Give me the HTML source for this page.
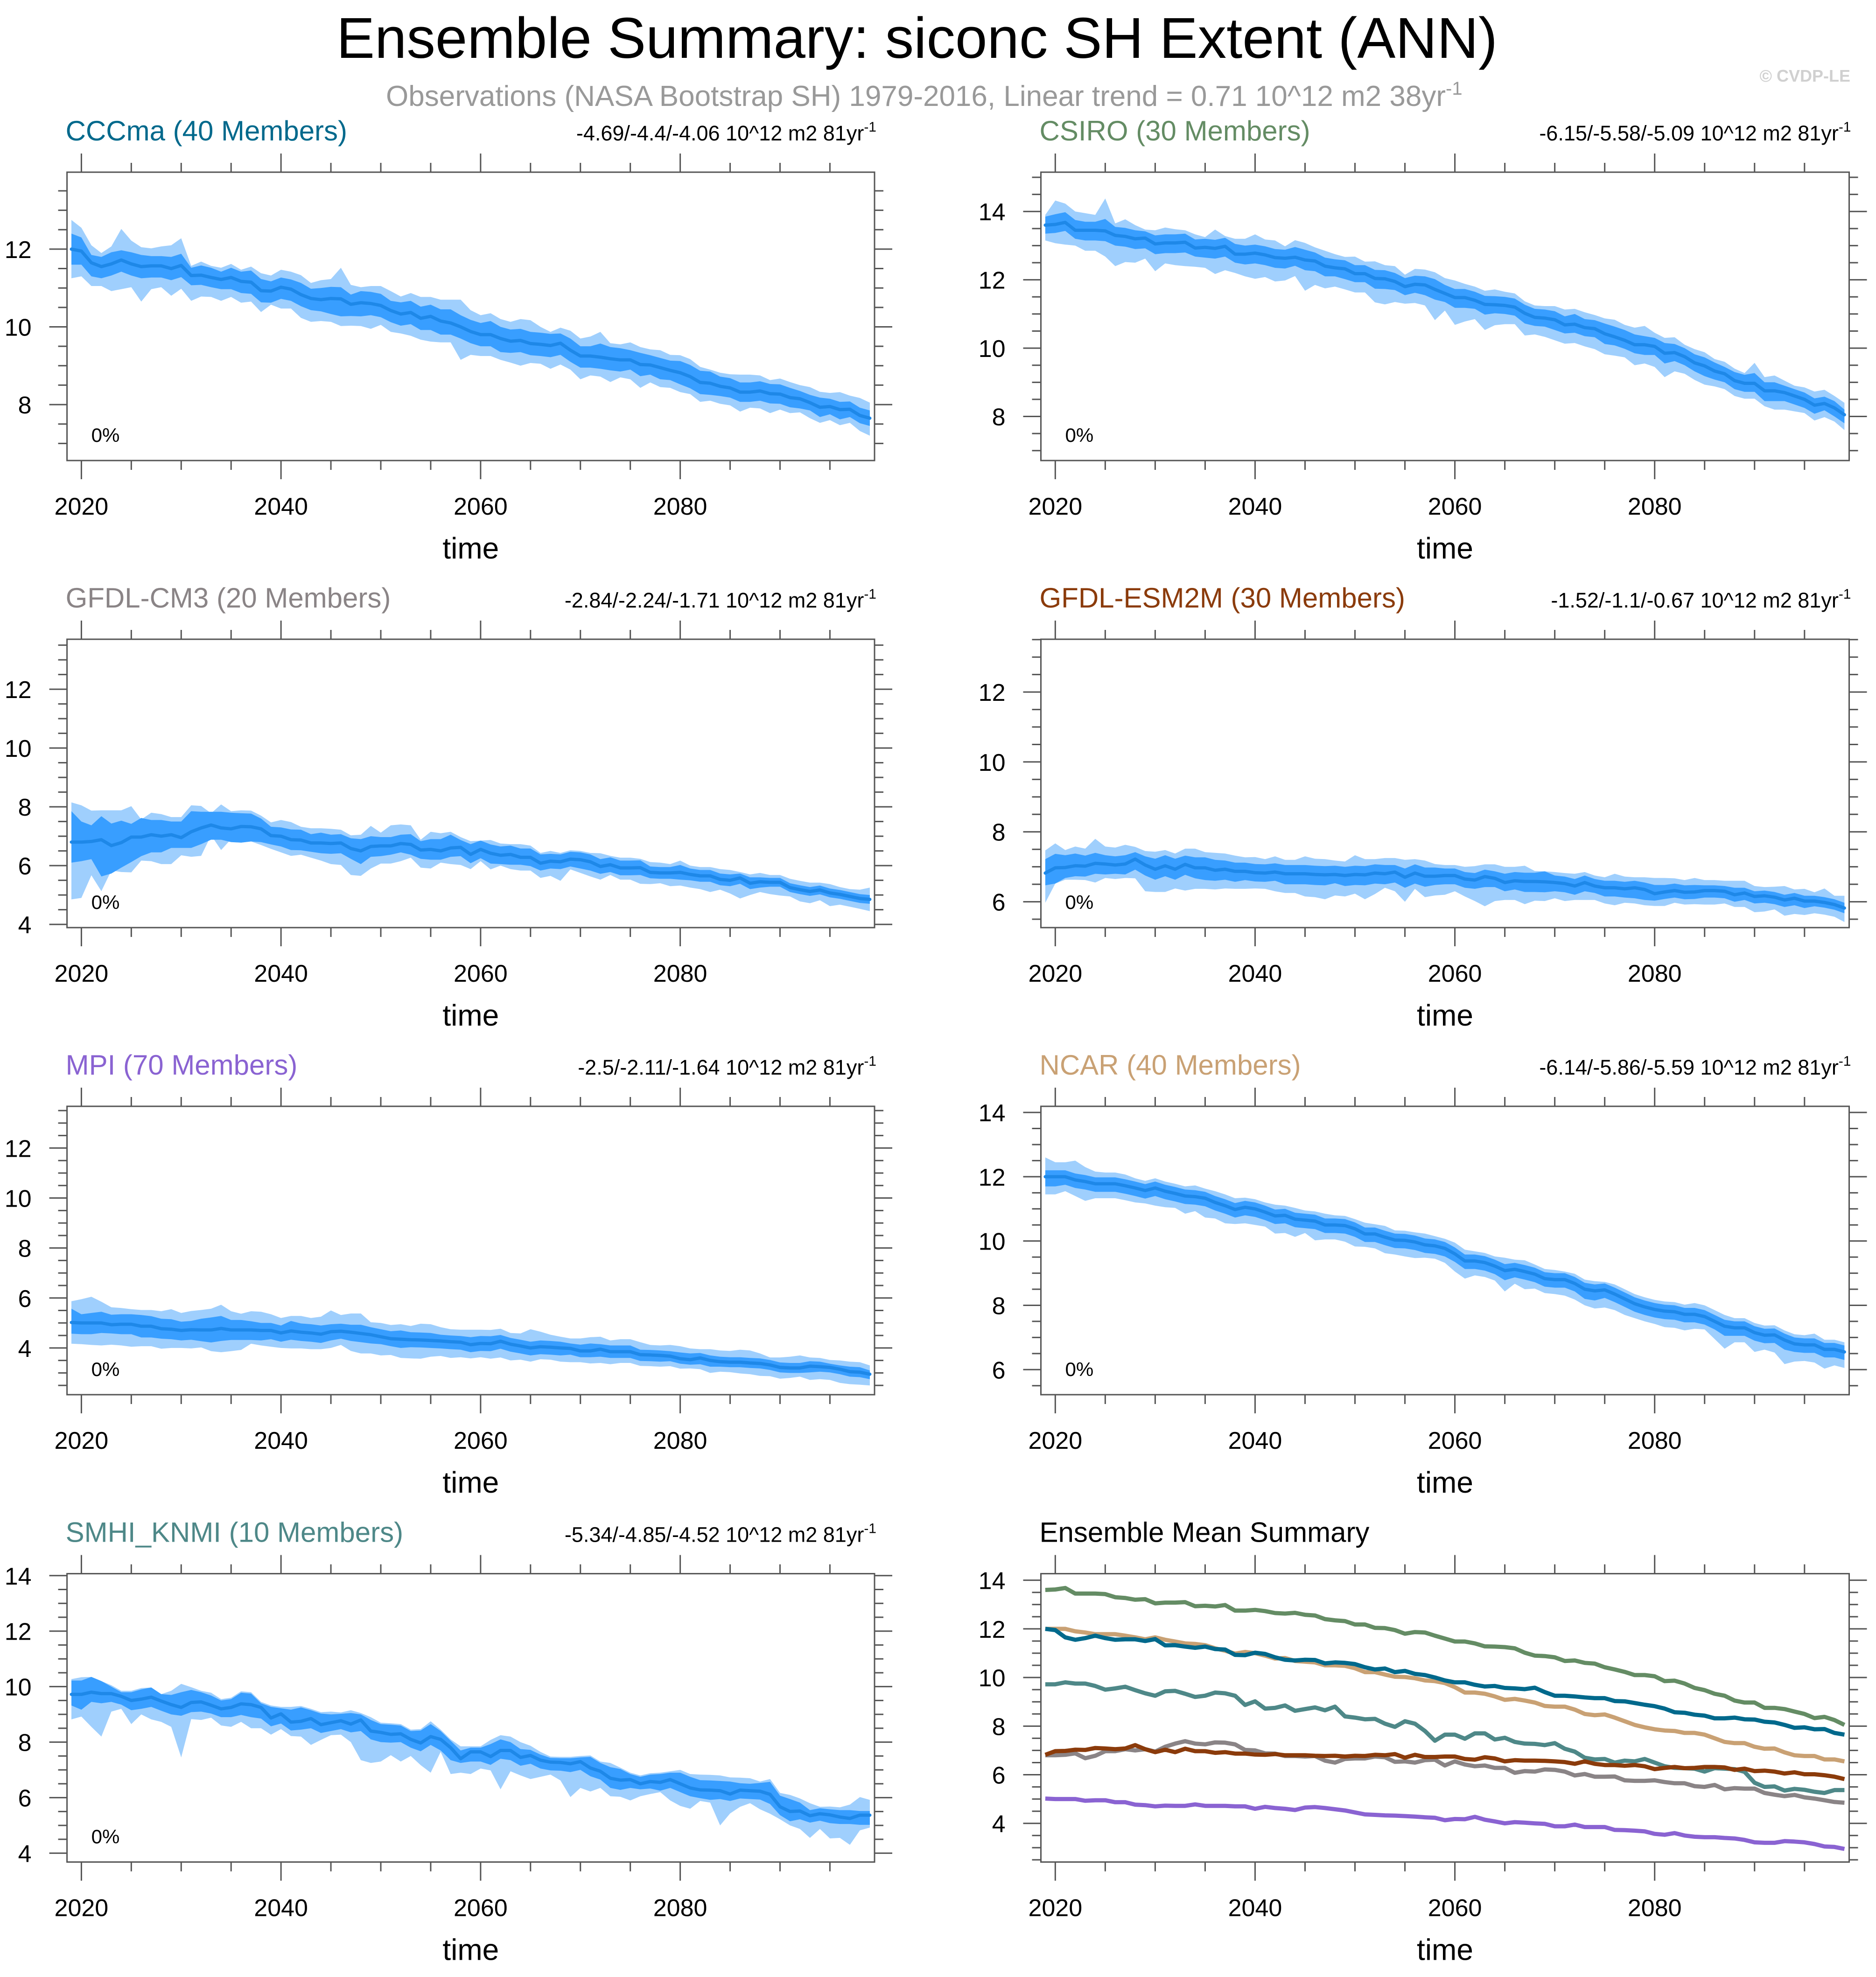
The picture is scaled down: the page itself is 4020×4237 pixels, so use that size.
<!DOCTYPE html>
<html><head><meta charset="utf-8"><style>
html,body{margin:0;padding:0;background:#fff;}
svg{display:block;font-family:"Liberation Sans",sans-serif;}
</style></head><body>
<svg id="chart" xmlns="http://www.w3.org/2000/svg" width="4020" height="4237" viewBox="0 0 4020 4237">
<rect x="0" y="0" width="4020" height="4237" fill="#fff"/>
<text x="1965" y="124" font-size="123" text-anchor="middle" fill="#000">Ensemble Summary: siconc SH Extent (ANN)</text>
<text x="827" y="227" font-size="62" fill="#999">Observations (NASA Bootstrap SH) 1979-2016, Linear trend = 0.71 10^12 m2 38yr<tspan font-size="40" dy="-24">-1</tspan></text>
<text x="3965" y="175" font-size="36" font-weight="bold" text-anchor="end" fill="#d0d0d0">© CVDP-LE</text>
</svg>
<script>
// ---------- DATA (years 2019..2099) ----------
const startYear = 2019;
const xTickYears = [2020, 2040, 2060, 2080];

const cccmaMean = [12.0,11.95,11.65,11.55,11.62,11.72,11.62,11.55,11.57,
11.57,11.5,11.58,11.32,11.33,11.27,11.22,11.27,11.17,
11.15,10.93,10.92,11.02,10.97,10.83,10.73,10.7,10.73,
10.72,10.58,10.62,10.6,10.55,10.42,10.33,10.37,10.22,
10.27,10.15,10.1,10.0,9.88,9.8,9.8,9.7,9.63,
9.65,9.57,9.55,9.52,9.58,9.4,9.25,9.25,9.22,
9.18,9.15,9.15,9.03,9.02,8.95,8.88,8.82,8.72,
8.57,8.55,8.47,8.43,8.32,8.32,8.35,8.28,8.27,
8.18,8.15,8.05,7.93,7.95,7.87,7.88,7.72,7.65];
const cccmaOuterUp = [0.75,0.6,0.45,0.35,0.45,0.8,0.6,0.5,0.45,
0.5,0.6,0.7,0.25,0.35,0.3,0.3,0.35,0.3,
0.4,0.45,0.4,0.45,0.45,0.5,0.4,0.5,0.5,
0.8,0.5,0.4,0.45,0.5,0.5,0.45,0.5,0.55,
0.5,0.55,0.6,0.7,0.55,0.5,0.55,0.5,0.5,
0.55,0.6,0.45,0.35,0.4,0.5,0.45,0.5,0.65,
0.4,0.4,0.45,0.45,0.4,0.45,0.4,0.45,0.45,
0.4,0.35,0.35,0.35,0.45,0.45,0.4,0.35,0.4,
0.4,0.35,0.4,0.4,0.35,0.45,0.35,0.45,0.4];
const cccmaOuterDn = [0.75,0.65,0.6,0.5,0.7,0.75,0.6,0.9,0.6,
0.55,0.7,0.6,0.65,0.55,0.5,0.55,0.5,0.55,
0.5,0.55,0.35,0.55,0.5,0.6,0.6,0.55,0.6,
0.7,0.55,0.6,0.65,0.5,0.55,0.5,0.6,0.55,
0.65,0.55,0.5,0.85,0.6,0.55,0.55,0.55,0.55,
0.65,0.5,0.5,0.6,0.55,0.5,0.6,0.5,0.5,
0.6,0.45,0.5,0.6,0.45,0.5,0.45,0.5,0.45,
0.5,0.45,0.45,0.45,0.5,0.4,0.45,0.5,0.4,
0.4,0.35,0.4,0.4,0.35,0.4,0.35,0.4,0.45];
const cccmaInnerUp = [0.4,0.35,0.2,0.25,0.3,0.25,0.3,0.3,0.25,
0.25,0.3,0.3,0.2,0.25,0.25,0.2,0.25,0.25,
0.3,0.3,0.25,0.25,0.25,0.3,0.25,0.3,0.3,
0.3,0.25,0.3,0.3,0.3,0.25,0.3,0.3,0.3,
0.3,0.3,0.35,0.3,0.3,0.3,0.35,0.3,0.3,
0.3,0.3,0.3,0.3,0.25,0.3,0.25,0.25,0.35,
0.3,0.3,0.25,0.3,0.25,0.25,0.25,0.3,0.3,
0.3,0.3,0.25,0.25,0.25,0.25,0.25,0.25,0.25,
0.25,0.2,0.2,0.25,0.2,0.2,0.2,0.2,0.2];
const cccmaInnerDn = [0.4,0.35,0.35,0.3,0.3,0.3,0.3,0.3,0.3,
0.3,0.3,0.3,0.25,0.25,0.25,0.25,0.3,0.3,
0.3,0.3,0.3,0.3,0.3,0.3,0.3,0.3,0.4,
0.45,0.3,0.35,0.3,0.3,0.3,0.3,0.3,0.3,
0.35,0.35,0.3,0.3,0.3,0.3,0.3,0.35,0.3,
0.3,0.3,0.3,0.3,0.3,0.3,0.3,0.3,0.3,
0.3,0.3,0.25,0.3,0.25,0.3,0.25,0.3,0.3,
0.3,0.3,0.25,0.25,0.25,0.25,0.25,0.25,0.25,
0.25,0.25,0.2,0.25,0.2,0.25,0.2,0.2,0.2];

const csiroMean = [13.6,13.62,13.68,13.45,13.45,13.45,13.43,13.3,13.27,
13.2,13.22,13.05,13.08,13.08,13.1,12.93,12.95,12.92,
12.98,12.75,12.75,12.78,12.73,12.65,12.63,12.66,12.58,
12.55,12.4,12.35,12.32,12.18,12.18,12.04,12.03,11.95,
11.8,11.87,11.85,11.72,11.6,11.48,11.48,11.4,11.28,
11.27,11.25,11.2,11.02,10.9,10.88,10.83,10.68,10.7,
10.6,10.57,10.42,10.33,10.23,10.1,10.1,10.05,9.85,
9.87,9.75,9.57,9.48,9.33,9.25,9.05,8.97,8.97,
8.75,8.75,8.7,8.6,8.5,8.33,8.38,8.25,8.05];
const csiroOuterUp = [0.3,0.7,0.55,0.55,0.5,0.45,0.95,0.35,0.5,
0.4,0.25,0.4,0.45,0.4,0.35,0.4,0.3,0.55,
0.3,0.45,0.45,0.55,0.45,0.5,0.35,0.5,0.5,
0.4,0.45,0.4,0.35,0.5,0.35,0.5,0.4,0.45,
0.35,0.45,0.45,0.5,0.45,0.5,0.4,0.4,0.4,
0.45,0.4,0.4,0.35,0.35,0.35,0.4,0.45,0.45,
0.45,0.4,0.45,0.5,0.45,0.5,0.55,0.4,0.45,
0.45,0.35,0.4,0.4,0.35,0.35,0.35,0.3,0.6,
0.4,0.45,0.35,0.3,0.35,0.4,0.4,0.35,0.35];
const csiroOuterDn = [0.45,0.55,0.65,0.45,0.6,0.6,0.75,0.9,0.75,
0.7,0.6,0.8,0.6,0.65,0.7,0.55,0.6,0.75,
0.7,0.55,0.65,0.75,0.65,0.7,0.65,0.55,0.9,
0.7,0.65,0.55,0.6,0.55,0.55,0.7,0.75,0.6,
0.5,0.55,0.6,0.9,0.5,0.8,0.7,0.55,0.75,
0.6,0.55,0.5,0.65,0.5,0.55,0.6,0.55,0.55,
0.55,0.6,0.6,0.55,0.5,0.6,0.55,0.6,0.7,
0.55,0.5,0.5,0.55,0.45,0.45,0.45,0.45,0.45,
0.45,0.55,0.5,0.45,0.4,0.45,0.4,0.4,0.45];
const csiroInnerUp = [0.25,0.3,0.3,0.3,0.25,0.25,0.35,0.25,0.25,
0.25,0.2,0.25,0.25,0.25,0.25,0.25,0.25,0.25,
0.25,0.3,0.25,0.25,0.25,0.25,0.25,0.3,0.3,
0.25,0.25,0.25,0.25,0.25,0.25,0.25,0.25,0.25,
0.25,0.25,0.25,0.3,0.25,0.25,0.25,0.25,0.25,
0.25,0.25,0.25,0.25,0.25,0.25,0.25,0.25,0.3,
0.25,0.25,0.3,0.3,0.3,0.3,0.25,0.25,0.3,
0.25,0.25,0.25,0.25,0.25,0.2,0.25,0.25,0.3,
0.25,0.25,0.2,0.2,0.2,0.2,0.2,0.2,0.15];
const csiroInnerDn = [0.25,0.25,0.25,0.25,0.3,0.3,0.3,0.3,0.3,
0.3,0.3,0.3,0.3,0.3,0.3,0.25,0.3,0.3,
0.3,0.25,0.3,0.3,0.3,0.3,0.3,0.25,0.3,
0.3,0.3,0.25,0.3,0.25,0.25,0.3,0.3,0.25,
0.25,0.25,0.3,0.3,0.25,0.3,0.3,0.25,0.3,
0.25,0.25,0.25,0.3,0.25,0.25,0.3,0.25,0.25,
0.25,0.25,0.3,0.25,0.25,0.25,0.3,0.25,0.3,
0.25,0.25,0.25,0.3,0.25,0.25,0.25,0.25,0.25,
0.3,0.3,0.25,0.25,0.25,0.25,0.2,0.25,0.25];

const cm3Mean = [6.8,6.8,6.82,6.88,6.68,6.78,6.97,6.97,7.05,
7.0,7.05,6.95,7.15,7.28,7.38,7.28,7.25,7.33,
7.32,7.25,7.02,7.0,6.88,6.87,6.77,6.77,6.75,
6.77,6.58,6.5,6.65,6.67,6.67,6.75,6.72,6.53,
6.55,6.5,6.6,6.62,6.38,6.55,6.42,6.35,6.38,
6.28,6.28,6.08,6.15,6.13,6.22,6.2,6.13,5.97,
6.03,5.92,5.92,5.93,5.77,5.75,5.75,5.77,5.7,
5.65,5.65,5.53,5.5,5.58,5.4,5.45,5.43,5.43,
5.25,5.18,5.12,5.17,5.07,5.02,4.95,4.88,4.85];
const cm3OuterUp = [1.35,1.25,1.05,1.0,1.2,1.1,1.05,0.6,0.75,
0.75,0.6,0.7,0.9,0.75,0.4,0.8,0.6,0.55,
0.55,0.45,0.45,0.55,0.6,0.45,0.5,0.5,0.5,
0.45,0.45,0.55,0.7,0.45,0.7,0.65,0.65,0.35,
0.6,0.6,0.55,0.35,0.45,0.3,0.45,0.4,0.35,
0.45,0.4,0.35,0.35,0.3,0.3,0.3,0.3,0.45,
0.3,0.35,0.35,0.3,0.35,0.35,0.3,0.4,0.3,
0.3,0.3,0.35,0.35,0.2,0.3,0.3,0.25,0.25,
0.3,0.3,0.3,0.25,0.3,0.25,0.25,0.3,0.4];
const cm3OuterDn = [1.95,1.9,1.15,1.75,0.85,1.0,1.2,0.8,0.9,
0.95,1.0,0.6,0.85,0.95,0.35,0.75,0.35,0.55,
0.5,0.55,0.45,0.55,0.55,0.5,0.5,0.6,0.7,
0.75,0.9,0.85,0.75,0.6,0.6,0.6,0.45,0.6,
0.65,0.4,0.55,0.6,0.5,0.4,0.55,0.35,0.5,
0.45,0.45,0.5,0.5,0.65,0.35,0.45,0.5,0.45,
0.35,0.4,0.4,0.55,0.4,0.35,0.45,0.45,0.45,
0.45,0.55,0.35,0.45,0.7,0.4,0.35,0.4,0.45,
0.3,0.4,0.4,0.35,0.45,0.35,0.35,0.35,0.4];
const cm3InnerUp = [1.05,0.7,0.55,0.8,0.75,0.75,0.45,0.65,0.5,
0.55,0.45,0.55,0.7,0.55,0.45,0.55,0.55,0.45,
0.45,0.35,0.3,0.3,0.35,0.35,0.3,0.35,0.3,
0.3,0.35,0.4,0.35,0.3,0.3,0.3,0.35,0.3,
0.35,0.4,0.45,0.25,0.35,0.3,0.3,0.3,0.3,
0.3,0.3,0.3,0.25,0.25,0.25,0.25,0.25,0.25,
0.25,0.25,0.25,0.25,0.2,0.2,0.2,0.25,0.2,
0.2,0.2,0.2,0.2,0.15,0.2,0.15,0.15,0.15,
0.15,0.15,0.15,0.15,0.15,0.15,0.15,0.15,0.15];
const cm3InnerDn = [0.7,0.65,0.6,1.25,0.95,0.85,0.85,0.65,0.6,
0.55,0.45,0.35,0.55,0.55,0.5,0.4,0.45,0.55,
0.5,0.45,0.3,0.35,0.35,0.35,0.3,0.35,0.35,
0.35,0.35,0.45,0.35,0.35,0.3,0.3,0.35,0.3,
0.35,0.3,0.3,0.3,0.3,0.3,0.35,0.3,0.35,
0.25,0.3,0.25,0.25,0.25,0.25,0.3,0.3,0.25,
0.25,0.25,0.25,0.25,0.2,0.2,0.2,0.25,0.2,
0.2,0.2,0.2,0.2,0.2,0.2,0.2,0.15,0.15,
0.15,0.15,0.15,0.15,0.15,0.15,0.15,0.15,0.15];

const esmMean = [6.82,6.97,6.98,7.03,7.02,7.1,7.08,7.05,7.08,
7.22,7.05,6.93,7.03,6.93,7.07,6.97,6.97,6.9,
6.93,6.87,6.87,6.83,6.82,6.85,6.8,6.8,6.8,
6.78,6.77,6.78,6.75,6.78,6.77,6.82,6.8,6.85,
6.7,6.82,6.73,6.73,6.75,6.75,6.65,6.62,6.72,
6.67,6.55,6.6,6.58,6.58,6.57,6.55,6.52,6.45,
6.55,6.45,6.4,6.4,6.37,6.4,6.35,6.23,6.28,
6.32,6.27,6.28,6.32,6.32,6.3,6.2,6.25,6.15,
6.17,6.13,6.05,6.1,6.02,6.02,5.98,5.92,5.82];
const esmOuterUp = [0.65,0.7,0.5,0.55,0.5,0.7,0.5,0.5,0.55,
0.35,0.4,0.5,0.45,0.45,0.45,0.55,0.45,0.5,
0.45,0.45,0.4,0.45,0.4,0.45,0.4,0.4,0.5,
0.45,0.45,0.4,0.4,0.55,0.45,0.4,0.45,0.4,
0.5,0.4,0.45,0.35,0.3,0.3,0.35,0.4,0.35,
0.4,0.45,0.4,0.45,0.3,0.3,0.3,0.3,0.35,
0.3,0.3,0.3,0.4,0.35,0.3,0.35,0.45,0.4,
0.35,0.35,0.4,0.3,0.3,0.3,0.4,0.35,0.3,
0.25,0.3,0.4,0.25,0.35,0.25,0.4,0.25,0.35];
const esmOuterDn = [0.85,0.45,0.35,0.4,0.4,0.55,0.4,0.4,0.4,
0.55,0.75,0.65,0.75,0.55,0.75,0.6,0.6,0.55,
0.55,0.5,0.5,0.45,0.45,0.55,0.55,0.55,0.65,
0.65,0.7,0.6,0.6,0.55,0.7,0.6,0.4,0.55,
0.7,0.45,0.6,0.55,0.55,0.45,0.5,0.6,0.85,
0.65,0.5,0.55,0.65,0.55,0.55,0.45,0.5,0.4,
0.5,0.4,0.45,0.5,0.4,0.45,0.45,0.35,0.4,
0.35,0.35,0.35,0.4,0.4,0.35,0.35,0.4,0.45,
0.45,0.35,0.45,0.45,0.4,0.35,0.35,0.35,0.4];
const esmInnerUp = [0.4,0.4,0.35,0.35,0.3,0.3,0.25,0.25,0.25,
0.2,0.25,0.3,0.3,0.3,0.25,0.3,0.3,0.3,
0.25,0.25,0.25,0.25,0.25,0.25,0.25,0.25,0.25,
0.25,0.25,0.25,0.25,0.25,0.25,0.25,0.25,0.2,
0.25,0.25,0.25,0.25,0.2,0.2,0.2,0.2,0.2,
0.2,0.25,0.25,0.25,0.25,0.3,0.2,0.2,0.2,
0.2,0.2,0.2,0.2,0.2,0.2,0.2,0.25,0.2,
0.2,0.2,0.2,0.15,0.15,0.15,0.2,0.15,0.15,
0.15,0.15,0.15,0.15,0.15,0.15,0.15,0.15,0.15];
const esmInnerDn = [0.35,0.45,0.3,0.3,0.3,0.3,0.3,0.25,0.3,
0.3,0.3,0.3,0.3,0.3,0.3,0.3,0.35,0.3,
0.3,0.3,0.25,0.25,0.25,0.25,0.3,0.3,0.3,
0.3,0.3,0.25,0.3,0.3,0.3,0.3,0.3,0.3,
0.3,0.3,0.3,0.25,0.25,0.25,0.25,0.25,0.3,
0.25,0.25,0.25,0.3,0.3,0.3,0.25,0.25,0.25,
0.25,0.2,0.25,0.25,0.25,0.3,0.3,0.2,0.2,
0.2,0.2,0.2,0.2,0.2,0.2,0.2,0.2,0.2,
0.2,0.2,0.2,0.2,0.2,0.15,0.15,0.15,0.15];

const mpiMean = [5.02,5.0,5.0,5.0,4.93,4.95,4.95,4.87,4.87,
4.77,4.75,4.7,4.73,4.72,4.72,4.78,4.72,4.72,
4.72,4.7,4.7,4.6,4.68,4.63,4.6,4.55,4.65,
4.67,4.63,4.58,4.53,4.45,4.37,4.35,4.33,4.32,
4.3,4.28,4.25,4.23,4.13,4.18,4.17,4.27,4.15,
4.08,4.0,4.05,4.03,4.0,3.98,3.88,3.88,3.95,
3.85,3.85,3.85,3.73,3.72,3.7,3.67,3.57,3.53,
3.6,3.5,3.45,3.43,3.43,3.4,3.38,3.32,3.22,
3.2,3.2,3.27,3.25,3.22,3.15,3.05,3.03,2.95];
const mpiOuterUp = [0.85,0.95,1.05,0.85,0.7,0.65,0.6,0.65,0.65,
0.7,0.8,0.7,0.75,0.8,0.85,0.95,0.75,0.65,
0.75,0.75,0.65,0.6,0.6,0.65,0.6,0.7,0.85,
0.65,0.75,0.8,0.5,0.55,0.55,0.6,0.55,0.65,
0.65,0.55,0.5,0.5,0.6,0.55,0.55,0.5,0.45,
0.5,0.75,0.6,0.5,0.45,0.4,0.5,0.55,0.5,
0.45,0.5,0.5,0.5,0.4,0.4,0.45,0.5,0.45,
0.35,0.45,0.45,0.45,0.5,0.5,0.4,0.3,0.4,
0.45,0.5,0.35,0.35,0.3,0.35,0.4,0.4,0.35];
const mpiOuterDn = [0.85,0.85,0.88,0.9,0.8,0.85,0.9,0.8,0.8,
0.8,0.75,0.7,0.75,0.7,0.85,0.95,0.85,0.8,
0.55,0.6,0.65,0.6,0.7,0.65,0.65,0.6,0.65,
0.55,0.75,0.8,0.75,0.75,0.65,0.75,0.75,0.75,
0.65,0.6,0.65,0.6,0.55,0.55,0.6,0.65,0.65,
0.55,0.55,0.5,0.5,0.55,0.55,0.45,0.5,0.55,
0.5,0.45,0.45,0.45,0.45,0.45,0.4,0.4,0.35,
0.45,0.5,0.4,0.4,0.45,0.45,0.5,0.45,0.45,
0.4,0.35,0.55,0.5,0.5,0.55,0.5,0.5,0.45];
const mpiInnerUp = [0.55,0.35,0.4,0.45,0.4,0.4,0.4,0.45,0.4,
0.4,0.4,0.35,0.35,0.45,0.5,0.5,0.4,0.4,
0.35,0.3,0.3,0.3,0.4,0.35,0.35,0.35,0.3,
0.3,0.3,0.35,0.3,0.3,0.3,0.35,0.3,0.3,
0.3,0.25,0.25,0.25,0.3,0.3,0.3,0.25,0.25,
0.25,0.25,0.25,0.25,0.25,0.2,0.25,0.3,0.2,
0.25,0.25,0.25,0.2,0.2,0.2,0.2,0.25,0.25,
0.2,0.2,0.2,0.2,0.2,0.2,0.2,0.2,0.2,
0.2,0.2,0.2,0.2,0.15,0.15,0.2,0.2,0.15];
const mpiInnerDn = [0.45,0.45,0.45,0.4,0.35,0.4,0.4,0.45,0.45,
0.4,0.4,0.4,0.4,0.45,0.5,0.5,0.4,0.4,
0.4,0.4,0.35,0.35,0.35,0.35,0.35,0.35,0.35,
0.3,0.35,0.35,0.35,0.3,0.3,0.35,0.3,0.3,
0.3,0.3,0.3,0.3,0.3,0.3,0.3,0.3,0.3,
0.3,0.3,0.3,0.3,0.3,0.25,0.25,0.25,0.3,
0.25,0.25,0.25,0.25,0.25,0.25,0.2,0.2,0.2,
0.25,0.25,0.2,0.2,0.2,0.2,0.2,0.2,0.2,
0.2,0.2,0.25,0.2,0.2,0.2,0.2,0.2,0.2];

const ncarMean = [12.0,12.0,12.0,11.9,11.85,11.78,11.78,11.78,11.72,
11.65,11.57,11.65,11.55,11.48,11.4,11.38,11.33,11.2,
11.1,10.98,11.05,11.0,10.9,10.78,10.8,10.68,10.65,
10.62,10.5,10.5,10.48,10.38,10.22,10.22,10.12,10.03,
10.02,9.97,9.88,9.85,9.77,9.6,9.38,9.38,9.33,
9.22,9.08,9.12,9.05,8.97,8.83,8.8,8.8,8.68,
8.5,8.45,8.48,8.35,8.2,8.05,7.95,7.87,7.82,
7.8,7.72,7.72,7.65,7.5,7.35,7.3,7.3,7.15,
7.07,7.08,6.92,6.8,6.77,6.77,6.63,6.63,6.55];
const ncarOuterUp = [0.6,0.45,0.45,0.6,0.45,0.38,0.35,0.35,0.35,
0.3,0.3,0.3,0.3,0.3,0.3,0.35,0.3,0.35,
0.35,0.35,0.3,0.3,0.3,0.35,0.3,0.35,0.3,
0.3,0.35,0.3,0.3,0.3,0.35,0.3,0.35,0.3,
0.3,0.3,0.35,0.3,0.3,0.35,0.35,0.3,0.3,
0.3,0.4,0.3,0.35,0.3,0.3,0.3,0.25,0.3,
0.3,0.3,0.25,0.3,0.3,0.3,0.3,0.3,0.3,
0.3,0.3,0.35,0.35,0.35,0.35,0.3,0.3,0.3,
0.3,0.3,0.3,0.3,0.3,0.35,0.3,0.3,0.3];
const ncarOuterDn = [0.55,0.55,0.45,0.5,0.6,0.45,0.45,0.45,0.45,
0.45,0.4,0.55,0.5,0.45,0.55,0.45,0.6,0.5,
0.55,0.45,0.5,0.5,0.45,0.55,0.55,0.55,0.4,
0.6,0.45,0.45,0.5,0.55,0.4,0.45,0.5,0.45,
0.5,0.5,0.4,0.4,0.45,0.55,0.55,0.45,0.45,
0.45,0.65,0.45,0.55,0.45,0.45,0.45,0.5,0.5,
0.5,0.55,0.55,0.5,0.5,0.45,0.45,0.45,0.5,
0.5,0.5,0.45,0.4,0.55,0.7,0.45,0.45,0.6,
0.45,0.55,0.75,0.55,0.5,0.55,0.6,0.5,0.5];
const ncarInnerUp = [0.2,0.2,0.2,0.2,0.2,0.2,0.2,0.2,0.2,
0.2,0.2,0.2,0.2,0.2,0.2,0.2,0.2,0.2,
0.2,0.2,0.2,0.2,0.2,0.2,0.2,0.2,0.2,
0.2,0.2,0.2,0.2,0.2,0.2,0.2,0.2,0.2,
0.2,0.2,0.2,0.2,0.2,0.2,0.2,0.2,0.2,
0.2,0.2,0.2,0.2,0.2,0.2,0.2,0.2,0.2,
0.2,0.2,0.2,0.2,0.2,0.2,0.2,0.2,0.2,
0.2,0.2,0.2,0.2,0.2,0.2,0.2,0.2,0.2,
0.2,0.2,0.2,0.2,0.2,0.2,0.2,0.2,0.2];
const ncarInnerDn = [0.3,0.3,0.25,0.25,0.25,0.25,0.25,0.25,0.25,
0.25,0.25,0.25,0.25,0.25,0.25,0.25,0.25,0.25,
0.25,0.25,0.25,0.25,0.25,0.25,0.25,0.25,0.25,
0.25,0.25,0.25,0.25,0.25,0.25,0.25,0.25,0.25,
0.25,0.25,0.25,0.25,0.25,0.25,0.25,0.25,0.25,
0.25,0.3,0.25,0.25,0.25,0.25,0.25,0.25,0.25,
0.3,0.3,0.25,0.25,0.25,0.25,0.25,0.25,0.25,
0.25,0.25,0.25,0.25,0.25,0.3,0.25,0.25,0.25,
0.25,0.25,0.3,0.25,0.25,0.25,0.25,0.25,0.25];

const smhiMean = [9.72,9.72,9.8,9.75,9.75,9.65,9.5,9.55,9.62,
9.48,9.35,9.25,9.43,9.45,9.33,9.2,9.25,9.38,
9.35,9.25,8.87,9.02,8.72,8.75,8.85,8.63,8.7,
8.77,8.65,8.8,8.4,8.35,8.28,8.3,8.1,7.97,
8.2,8.1,7.8,7.4,7.65,7.65,7.48,7.7,7.7,
7.45,7.52,7.35,7.28,7.27,7.22,7.3,7.07,6.95,
6.7,6.63,6.65,6.5,6.58,6.55,6.65,6.5,6.35,
6.28,6.27,6.25,6.13,6.27,6.25,6.23,6.12,5.67,
5.5,5.52,5.35,5.42,5.38,5.3,5.25,5.37,5.37];
const smhiOuterUp = [0.55,0.62,0.55,0.45,0.3,0.2,0.35,0.4,0.35,
0.25,0.5,0.85,0.55,0.4,0.45,0.35,0.35,0.45,
0.45,0.2,0.45,0.25,0.55,0.55,0.35,0.45,0.4,
0.3,0.5,0.25,0.5,0.35,0.4,0.35,0.35,0.5,
0.55,0.35,0.3,0.45,0.2,0.2,0.6,0.55,0.5,
0.55,0.35,0.3,0.2,0.2,0.25,0.2,0.45,0.35,
0.55,0.45,0.25,0.3,0.3,0.35,0.3,0.5,0.5,
0.55,0.55,0.55,0.6,0.45,0.45,0.35,0.55,0.5,
0.6,0.45,0.45,0.25,0.3,0.35,0.5,0.65,0.55];
const smhiOuterDn = [0.9,0.8,1.25,1.55,0.65,0.45,0.85,0.55,0.8,
0.75,0.8,1.8,0.6,0.65,0.45,0.6,0.7,0.65,
0.85,0.75,0.6,0.55,0.5,0.55,0.95,0.55,0.45,
0.5,0.65,1.45,1.15,1.05,0.75,1.0,0.6,0.8,
1.3,0.45,0.95,0.5,0.8,0.6,0.5,1.4,0.75,
0.65,0.85,0.6,0.45,0.65,1.2,0.95,0.85,0.6,
0.65,0.6,0.75,0.45,0.45,0.35,0.75,0.8,0.75,
0.4,0.45,1.25,0.7,0.6,0.45,0.65,0.7,0.45,
0.5,0.65,0.8,0.55,0.85,0.75,0.95,0.55,0.45];
const smhiInnerUp = [0.5,0.5,0.55,0.45,0.25,0.15,0.3,0.35,0.35,
0.25,0.35,0.55,0.45,0.35,0.35,0.3,0.3,0.4,
0.4,0.15,0.4,0.2,0.45,0.5,0.3,0.4,0.3,
0.25,0.4,0.2,0.4,0.3,0.35,0.3,0.3,0.45,
0.45,0.3,0.25,0.3,0.15,0.15,0.45,0.4,0.3,
0.3,0.2,0.2,0.15,0.15,0.2,0.15,0.4,0.3,
0.4,0.4,0.2,0.25,0.25,0.3,0.25,0.4,0.4,
0.35,0.35,0.35,0.45,0.25,0.25,0.3,0.45,0.4,
0.45,0.3,0.2,0.2,0.2,0.25,0.3,0.15,0.15];
const smhiInnerDn = [0.4,0.55,0.35,0.35,0.3,0.3,0.35,0.35,0.35,
0.35,0.35,0.3,0.35,0.35,0.3,0.3,0.35,0.4,
0.45,0.4,0.3,0.35,0.3,0.3,0.35,0.3,0.3,
0.3,0.3,0.4,0.3,0.35,0.3,0.3,0.3,0.3,
0.3,0.4,0.45,0.15,0.35,0.35,0.3,0.3,0.35,
0.3,0.3,0.3,0.3,0.3,0.3,0.3,0.3,0.3,
0.35,0.35,0.3,0.2,0.25,0.3,0.3,0.3,0.3,
0.3,0.35,0.3,0.25,0.3,0.3,0.3,0.35,0.3,
0.35,0.3,0.25,0.25,0.3,0.25,0.2,0.35,0.35];

// ---------- LAYOUT ----------
const NS = 'http://www.w3.org/2000/svg';
const svg = document.getElementById('chart');
const XMIN = 2018.56, XMAX = 2099.47;
const LEFT = [143.6, 1874], RIGHT = [2230.5, 3962.5];
const TOPS = [369, 1370, 2371, 3372.6];
const BOXH = 618;
const C_LIGHT = '#9fcffd', C_DARK = '#389eff', C_LINE = '#1e88e8', C_AX = '#555';

function el(tag, attrs, parent) {
  const e = document.createElementNS(NS, tag);
  for (const k in attrs) e.setAttribute(k, attrs[k]);
  (parent || svg).appendChild(e);
  return e;
}

function makeAxes(g, box, ymin, ymax) {
  const xs = yr => box.x0 + (yr - XMIN) / (XMAX - XMIN) * (box.x1 - box.x0);
  const ys = v => box.y1 - (v - ymin) / (ymax - ymin) * (box.y1 - box.y0);
  return {xs, ys};
}

function drawFrame(g, box, ymin, ymax, ax) {
  const {xs, ys} = ax;
  const r = el('rect', {x: box.x0, y: box.y0, width: box.x1 - box.x0, height: box.y1 - box.y0, fill: 'none', stroke: C_AX, 'stroke-width': 3}, g);
  
  
  for (let yr = 2020; yr <= 2095; yr += 5) {
    const major = xTickYears.includes(yr);
    const len = major ? 40 : 20;
    const x = xs(yr);
    const t1 = el('line', {x1: x, x2: x, y1: box.y1, y2: box.y1 + len, stroke: C_AX, 'stroke-width': 3}, g);
    
    
    const t2 = el('line', {x1: x, x2: x, y1: box.y0, y2: box.y0 - len, stroke: C_AX, 'stroke-width': 3}, g);
    
    
  }
  xTickYears.forEach(yr => {
    const t = el('text', {x: xs(yr), y: box.y1 + 116, 'font-size': 52, 'text-anchor': 'middle', fill: '#000'}, g);
    t.textContent = String(yr);
    
    
  });
  const start = Math.ceil(ymin * 2) / 2;
  for (let v = start; v <= ymax + 1e-9; v += 0.5) {
    const major = Math.abs(v / 2 - Math.round(v / 2)) < 1e-9;
    const len = major ? 38 : 19;
    const y = ys(v);
    const t1 = el('line', {x1: box.x0, x2: box.x0 - len, y1: y, y2: y, stroke: C_AX, 'stroke-width': 3}, g);
    
    
    const t2 = el('line', {x1: box.x1, x2: box.x1 + len, y1: y, y2: y, stroke: C_AX, 'stroke-width': 3}, g);
    
    
    if (major) {
      const t = el('text', {x: box.x0 - 76, y: y + 19, 'font-size': 52, 'text-anchor': 'end', fill: '#000'}, g);
      t.textContent = String(Math.round(v));
      
      
    }
  }
  const tl = el('text', {x: (box.x0 + box.x1) / 2, y: box.y1 + 210, 'font-size': 64, 'text-anchor': 'middle', fill: '#000'}, g);
  tl.textContent = 'time';
  
  
}

function pathFrom(points) {
  return points.map((p, i) => (i ? 'L' : 'M') + p[0].toFixed(1) + ',' + p[1].toFixed(1)).join('');
}
function bandPath(ax, mean, up, dn) {
  const top = mean.map((m, i) => [ax.xs(startYear + i), ax.ys(m + up[i])]);
  const bot = mean.map((m, i) => [ax.xs(startYear + i), ax.ys(m - dn[i])]).reverse();
  return pathFrom(top.concat(bot)) + 'Z';
}

const models = [
  {name: 'CCCma (40 Members)', color: '#00698c', stats: '-4.69/-4.4/-4.06', col: 0, row: 0, ymin: 6.56, ymax: 13.98,
   mean: cccmaMean, oU: cccmaOuterUp, oD: cccmaOuterDn, iU: cccmaInnerUp, iD: cccmaInnerDn, slug: 'cccma'},
  {name: 'CSIRO (30 Members)', color: '#648c64', stats: '-6.15/-5.58/-5.09', col: 1, row: 0, ymin: 6.71, ymax: 15.15,
   mean: csiroMean, oU: csiroOuterUp, oD: csiroOuterDn, iU: csiroInnerUp, iD: csiroInnerDn, slug: 'csiro'},
  {name: 'GFDL-CM3 (20 Members)', color: '#8a8486', stats: '-2.84/-2.24/-1.71', col: 0, row: 1, ymin: 3.89, ymax: 13.70,
   mean: cm3Mean, oU: cm3OuterUp, oD: cm3OuterDn, iU: cm3InnerUp, iD: cm3InnerDn, slug: 'gfdl-cm3'},
  {name: 'GFDL-ESM2M (30 Members)', color: '#8b3b0b', stats: '-1.52/-1.1/-0.67', col: 1, row: 1, ymin: 5.26, ymax: 13.51,
   mean: esmMean, oU: esmOuterUp, oD: esmOuterDn, iU: esmInnerUp, iD: esmInnerDn, slug: 'gfdl-esm2m'},
  {name: 'MPI (70 Members)', color: '#8a63d2', stats: '-2.5/-2.11/-1.64', col: 0, row: 2, ymin: 2.13, ymax: 13.67,
   mean: mpiMean, oU: mpiOuterUp, oD: mpiOuterDn, iU: mpiInnerUp, iD: mpiInnerDn, slug: 'mpi'},
  {name: 'NCAR (40 Members)', color: '#c9a174', stats: '-6.14/-5.86/-5.59', col: 1, row: 2, ymin: 5.22, ymax: 14.19,
   mean: ncarMean, oU: ncarOuterUp, oD: ncarOuterDn, iU: ncarInnerUp, iD: ncarInnerDn, slug: 'ncar'},
  {name: 'SMHI_KNMI (10 Members)', color: '#4e8888', stats: '-5.34/-4.85/-4.52', col: 0, row: 3, ymin: 3.68, ymax: 14.07,
   mean: smhiMean, oU: smhiOuterUp, oD: smhiOuterDn, iU: smhiInnerUp, iD: smhiInnerDn, slug: 'smhi-knmi'}
];

function boxFor(col, row) {
  const xr = col ? RIGHT : LEFT;
  return {x0: xr[0], x1: xr[1], y0: TOPS[row], y1: TOPS[row] + BOXH};
}

models.forEach(m => {
  const box = boxFor(m.col, m.row);
  const g = el('g', {});
  
  
  const ax = makeAxes(g, box, m.ymin, m.ymax);
  const cid = 'clip-' + m.slug;
  const cp = el('clipPath', {id: cid}, g);
  el('rect', {x: box.x0, y: box.y0, width: box.x1 - box.x0, height: box.y1 - box.y0}, cp);
  const dg = el('g', {'clip-path': 'url(#' + cid + ')'}, g);
  const outer = el('path', {d: bandPath(ax, m.mean, m.oU, m.oD), fill: C_LIGHT}, dg);
  
  
  const inner = el('path', {d: bandPath(ax, m.mean, m.iU, m.iD), fill: C_DARK}, dg);
  
  
  const line = el('path', {d: pathFrom(m.mean.map((v, i) => [ax.xs(startYear + i), ax.ys(v)])), fill: 'none', stroke: C_LINE, 'stroke-width': 7, 'stroke-linejoin': 'round', 'stroke-linecap': 'round'}, dg);
  
  
  drawFrame(g, box, m.ymin, m.ymax, ax);
  const title = el('text', {x: box.x0 - 3, y: box.y0 - 68, 'font-size': 60, fill: m.color}, g);
  title.textContent = m.name;
  
  
  const st = el('text', {x: box.x1 + 4, y: box.y0 - 68, 'font-size': 45, 'text-anchor': 'end', fill: '#000'}, g);
  st.textContent = m.stats + ' 10^12 m2 81yr';
  const sup = el('tspan', {'font-size': 30, dy: -19}, st);
  sup.textContent = '-1';
  
  
  const pc = el('text', {x: box.x0 + 52, y: box.y1 - 40, 'font-size': 42, fill: '#000'}, g);
  pc.textContent = '0%';
  
  
});

(function () {
  const box = boxFor(1, 3);
  const ymin = 2.41, ymax = 14.27;
  const g = el('g', {});
  
  
  const ax = makeAxes(g, box, ymin, ymax);
  const cp = el('clipPath', {id: 'clip-summary'}, g);
  el('rect', {x: box.x0, y: box.y0, width: box.x1 - box.x0, height: box.y1 - box.y0}, cp);
  const dg = el('g', {'clip-path': 'url(#clip-summary)'}, g);
  const order = [2, 4, 6, 3, 5, 0, 1];
  order.forEach(k => {
    const m = models[k];
    const p = el('path', {d: pathFrom(m.mean.map((v, i) => [ax.xs(startYear + i), ax.ys(v)])), fill: 'none', stroke: m.color, 'stroke-width': 9, 'stroke-linejoin': 'round'}, dg);
    
    
  });
  drawFrame(g, box, ymin, ymax, ax);
  const t = el('text', {x: box.x0 - 3, y: box.y0 - 68, 'font-size': 60, fill: '#000'}, g);
  t.textContent = 'Ensemble Mean Summary';
  
  
})();
</script>
</body></html>
